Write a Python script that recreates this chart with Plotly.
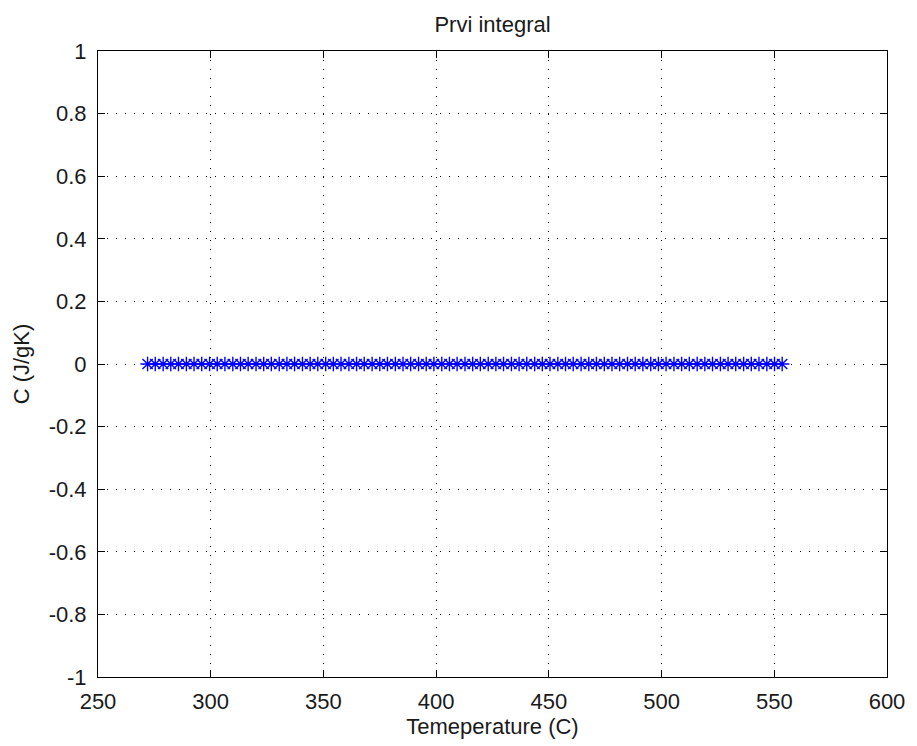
import plotly.graph_objects as go

temperature = [
    272.0, 275.4, 278.9, 282.3, 285.7, 289.2, 292.6, 296.0, 299.5, 302.9,
    306.3, 309.8, 313.2, 316.6, 320.1, 323.5, 326.9, 330.4, 333.8, 337.2,
    340.7, 344.1, 347.5, 351.0, 354.4, 357.8, 361.3, 364.7, 368.1, 371.6,
    375.0, 378.4, 381.9, 385.3, 388.7, 392.2, 395.6, 399.0, 402.5, 405.9,
    409.3, 412.8, 416.2, 419.6, 423.1, 426.5, 429.9, 433.4, 436.8, 440.2,
    443.7, 447.1, 450.5, 454.0, 457.4, 460.8, 464.3, 467.7, 471.1, 474.6,
    478.0, 481.4, 484.9, 488.3, 491.7, 495.2, 498.6, 502.0, 505.5, 508.9,
    512.3, 515.8, 519.2, 522.6, 526.1, 529.5, 532.9, 536.4, 539.8, 543.2,
    546.7, 550.1, 553.5,
]
capacity = [0.0] * len(temperature)

x_ticks = [250, 300, 350, 400, 450, 500, 550, 600]
x_tick_labels = ["250", "300", "350", "400", "450", "500", "550", "600"]
y_ticks = [-1, -0.8, -0.6, -0.4, -0.2, 0, 0.2, 0.4, 0.6, 0.8, 1]
y_tick_labels = ["-1", "-0.8", "-0.6", "-0.4", "-0.2", "0", "0.2", "0.4", "0.6", "0.8", "1"]

font_family = "Liberation Sans, Arial, sans-serif"
fsize = 22
text_color = "#1a1a1a"
fig_w, fig_h = 909, 738

fig = go.Figure(
    go.Scatter(
        x=temperature,
        y=capacity,
        mode="lines+markers",
        line=dict(color="#0000ff", width=1),
        marker=dict(symbol="asterisk-open", size=12, color="#0000ff",
                    line=dict(color="#0000ff", width=1.4)),
        showlegend=False,
    )
)

axis_common = dict(
    showline=True, linecolor="black", linewidth=1, mirror="ticks",
    ticks="inside", ticklen=7, tickcolor="black", tickwidth=1,
    showgrid=True, gridcolor="black", gridwidth=1, griddash="1px,8px",
    zeroline=False,
    tickfont=dict(family=font_family, size=fsize, color=text_color),
)

fig.update_layout(
    width=fig_w, height=fig_h,
    paper_bgcolor="white", plot_bgcolor="white",
    margin=dict(l=90, r=24, t=43, b=69),
    title=dict(text="Prvi integral", x=0.5, xref="paper", xanchor="center",
               y=1 - 16 / fig_h, yref="container", yanchor="middle",
               font=dict(family=font_family, size=fsize, color=text_color)),
    font=dict(family=font_family, size=fsize, color=text_color),
    xaxis=dict(range=[250, 600], tickvals=x_ticks, ticktext=x_tick_labels,
               ticklabelstandoff=5,
               title=dict(text="Temeperature (C)", standoff=0,
                          font=dict(family=font_family, size=fsize, color=text_color)),
               **axis_common),
    yaxis=dict(range=[-1, 1], tickvals=y_ticks, ticktext=y_tick_labels,
               ticklabelstandoff=6,
               title=dict(text="C (J/gK)", standoff=12,
                          font=dict(family=font_family, size=fsize, color=text_color)),
               **axis_common),
)

fig.write_html("out.html")
